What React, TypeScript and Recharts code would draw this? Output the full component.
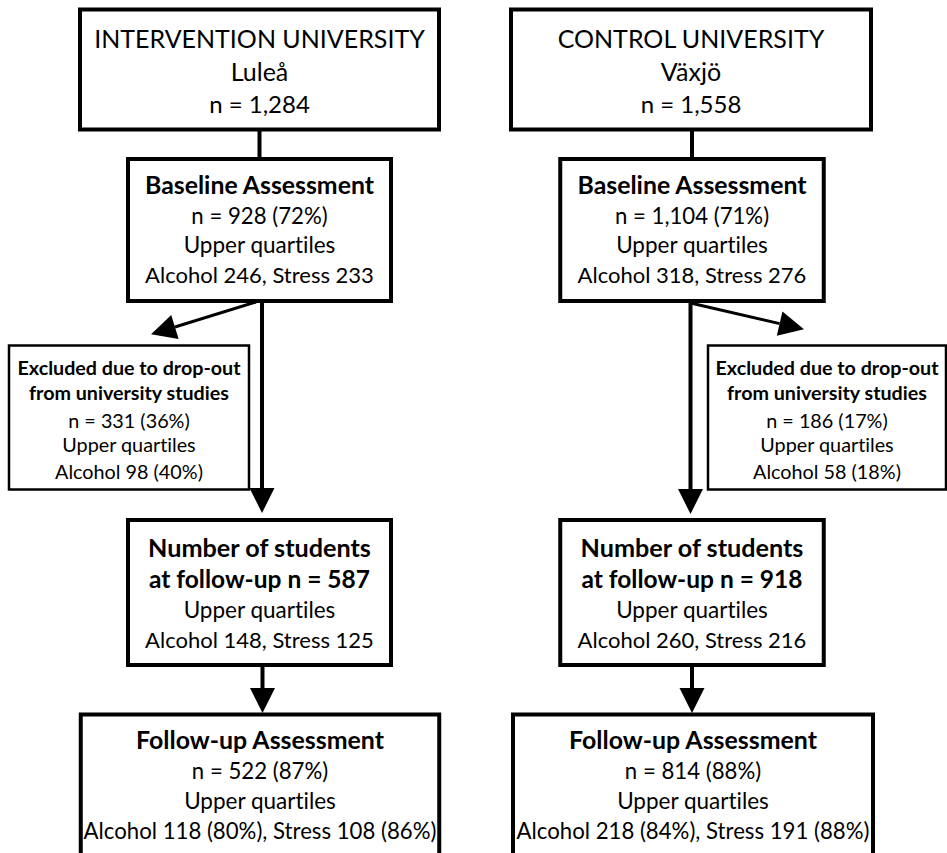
import React from 'react';
import { ScatterChart, Scatter, XAxis, YAxis } from 'recharts';

const W = 947;
const H = 853;
const FONT = 'Lato, "Open Sans", sans-serif';

// texts of each box, top to bottom
const leftTop = ['INTERVENTION UNIVERSITY', 'Luleå', 'n = 1,284'];
const rightTop = ['CONTROL UNIVERSITY', 'Växjö', 'n = 1,558'];
const leftBaseline = ['Baseline Assessment', 'n = 928 (72%)', 'Upper quartiles', 'Alcohol 246, Stress 233'];
const rightBaseline = ['Baseline Assessment', 'n = 1,104 (71%)', 'Upper quartiles', 'Alcohol 318, Stress 276'];
const leftExcluded = ['Excluded due to drop-out', 'from university studies', 'n = 331 (36%)', 'Upper quartiles', 'Alcohol 98 (40%)'];
const rightExcluded = ['Excluded due to drop-out', 'from university studies', 'n = 186 (17%)', 'Upper quartiles', 'Alcohol 58 (18%)'];
const leftFollowUpN = ['Number of students', 'at follow-up n = 587', 'Upper quartiles', 'Alcohol 148, Stress 125'];
const rightFollowUpN = ['Number of students', 'at follow-up n = 918', 'Upper quartiles', 'Alcohol 260, Stress 216'];
const leftFollowUp = ['Follow-up Assessment', 'n = 522 (87%)', 'Upper quartiles', 'Alcohol 118 (80%), Stress 108 (86%)'];
const rightFollowUp = ['Follow-up Assessment', 'n = 814 (88%)', 'Upper quartiles', 'Alcohol 218 (84%), Stress 191 (88%)'];

// how each kind of box is drawn: border, baselines from box top, font size per line, bold line count
const kinds: Record<string, any> = {
  site: { border: 4, offsets: [38, 71, 103], sizes: [25, 25, 24], bold: 0 },
  stage: { border: 4, offsets: [35, 65, 94, 124], sizes: [24.8, 22.2, 22.5, 22], bold: 1 },
  excluded: { border: 2.5, offsets: [29, 54, 82, 106, 133], sizes: [19.7, 19.7, 19.8, 19.8, 19.8], bold: 2 },
  count: { border: 4, offsets: [37, 68, 98, 128], sizes: [25.2, 24.5, 22.5, 22], bold: 2 },
  follow: { border: 4, offsets: [34, 64, 94, 124], sizes: [24.9, 22.2, 22.5, 22.2], bold: 1 },
};

// box layout: centre and size in page pixels (stroke centre lines)
const boxes = [
  { lines: leftTop, kind: 'site', x: 259.5, y: 69.5, w: 359, h: 120 },
  { lines: rightTop, kind: 'site', x: 691, y: 69.5, w: 360, h: 120 },
  { lines: leftBaseline, kind: 'stage', x: 259.5, y: 230, w: 263, h: 142 },
  { lines: rightBaseline, kind: 'stage', x: 692, y: 230, w: 263.5, h: 142 },
  { lines: leftExcluded, kind: 'excluded', x: 129, y: 417.5, w: 240, h: 144 },
  { lines: rightExcluded, kind: 'excluded', x: 827, y: 417.5, w: 238, h: 144 },
  { lines: leftFollowUpN, kind: 'count', x: 259.5, y: 592.5, w: 263, h: 145 },
  { lines: rightFollowUpN, kind: 'count', x: 692, y: 592.5, w: 263.5, h: 145 },
  { lines: leftFollowUp, kind: 'follow', x: 260, y: 794.5, w: 358.5, h: 160 },
  { lines: rightFollowUp, kind: 'follow', x: 693, y: 794.5, w: 360, h: 160 },
];

// connectors: from -> to (tip), head size, line width
const arrows = [
  { from: [259.5, 130], to: [259.5, 159], head: 0, width: 4 },
  { from: [692, 130], to: [692, 159], head: 0, width: 4 },
  { from: [262, 302], to: [262, 512], head: 25, width: 4 },
  { from: [690.5, 302], to: [690.5, 513], head: 25, width: 4 },
  { from: [256, 302], to: [152, 334], head: 25, width: 3 },
  { from: [690.5, 303], to: [803, 329], head: 25, width: 3 },
  { from: [262.5, 666], to: [262.5, 712], head: 25, width: 4 },
  { from: [692, 666], to: [692, 712], head: 25, width: 4 },
];

const BoxShape = (props: any) => {
  const { cx, cy, payload } = props;
  const st = kinds[payload.kind];
  const top = cy - payload.h / 2;
  return (
    <g>
      <rect
        x={cx - payload.w / 2}
        y={top}
        width={payload.w}
        height={payload.h}
        fill="#fff"
        stroke="#000"
        strokeWidth={st.border}
      />
      {payload.lines.map((t: string, i: number) => (
        <text
          key={i}
          x={cx}
          y={top + st.offsets[i]}
          textAnchor="middle"
          fontFamily={FONT}
          fontSize={st.sizes[i]}
          fontWeight={i < st.bold ? 700 : 400}
          fill="#000"
          style={{ fontVariantLigatures: 'none' }}
        >
          {t}
        </text>
      ))}
    </g>
  );
};

// draws the arrow head in front of the last point of the shaft
const HeadShape = (props: any) => {
  const { cx, cy, payload } = props;
  if (!payload.head) return <g />;
  const a = payload.angle;
  const L = payload.head;
  const hw = L / 2;
  const tx = cx + L * Math.cos(a);
  const ty = cy + L * Math.sin(a);
  const px = -Math.sin(a) * hw;
  const py = Math.cos(a) * hw;
  return <polygon points={`${tx},${ty} ${cx + px},${cy + py} ${cx - px},${cy - py}`} fill="#000" />;
};

export default function App() {
  return (
    <div style={{ position: 'absolute', left: 0, top: 0, background: '#fff' }}>
      <ScatterChart width={W} height={H} margin={{ top: 0, right: 0, bottom: 0, left: 0 }}>
        <XAxis type="number" dataKey="x" domain={[0, W]} hide />
        <YAxis type="number" dataKey="y" domain={[0, H]} reversed hide />
        {arrows.map((ar, i) => {
          const dx = ar.to[0] - ar.from[0];
          const dy = ar.to[1] - ar.from[1];
          const angle = Math.atan2(dy, dx);
          const len = Math.sqrt(dx * dx + dy * dy);
          const shaft = len - ar.head + 1;
          const pts = [
            { x: ar.from[0], y: ar.from[1], head: 0, angle },
            { x: ar.from[0] + shaft * Math.cos(angle), y: ar.from[1] + shaft * Math.sin(angle), head: ar.head, angle },
          ];
          return (
            <Scatter
              key={`a${i}`}
              data={pts}
              line={{ stroke: '#000', strokeWidth: ar.width }}
              lineType="joint"
              shape={HeadShape}
              isAnimationActive={false}
            />
          );
        })}
        <Scatter data={boxes} shape={BoxShape} isAnimationActive={false} />
      </ScatterChart>
    </div>
  );
}
